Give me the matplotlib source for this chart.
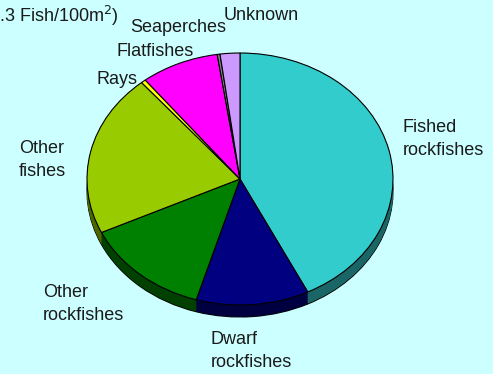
import matplotlib
matplotlib.use("Agg")
import matplotlib.pyplot as plt
import matplotlib.colors as mcolors
import numpy as np

plt.rcParams['font.family'] = ['Liberation Sans', 'DejaVu Sans']

# Catch composition (share of fish counted), clockwise from 12 o'clock
categories = ["Fished\nrockfishes", "Dwarf\nrockfishes", "Other\nrockfishes",
              "Other\nfishes", "Rays", "Flatfishes", "Seaperches", "Unknown"]
shares = [43.0, 12.0, 13.5, 21.0, 0.5, 8.3, 0.3, 2.1]
colors = ["#33CCCC", "#000080", "#008000", "#99CC00", "#FFFF00",
          "#FF00FF", "#808080", "#CC99FF"]
title_text = "(11.3 Fish/100m$^{2}$)"

W, H = 493, 374
fig = plt.figure(figsize=(W / 100, H / 100), dpi=100)
bg = "#CCFFFF"
fig.patch.set_facecolor(bg)
ax = fig.add_axes([0, 0, 1, 1])
ax.set_facecolor(bg)

# Pixel geometry of the tilted pie
cx, cy = 240, 179          # centre in pixels from the top-left
rx, ry = 153, 126          # horizontal / vertical radius in pixels
depth = 12 / ry            # thickness of the rim in y data units

dark = [tuple(np.array(mcolors.to_rgb(c)) * 0.5) for c in colors]

# Rim: a stack of darker pies shifted downward
N = 24
for k in range(N, 0, -1):
    ec = "black" if k == N else "none"
    ax.pie(shares, colors=dark, startangle=90, counterclock=False,
           center=(0, -depth * k / N), radius=1,
           wedgeprops=dict(edgecolor=ec, linewidth=0.8))

# Top face
ax.pie(shares, colors=colors, startangle=90, counterclock=False,
       center=(0, 0), radius=1,
       wedgeprops=dict(edgecolor="black", linewidth=0.8))

ax.set_aspect("auto")
ax.set_xlim(-cx / rx, (W - cx) / rx)
ax.set_ylim(-(H - cy) / ry, cy / ry)
ax.axis("off")


def px(x, y):
    return ((x - cx) / rx, (cy - y) / ry)


tc = "#1a1a1a"
fs = 13
label_pos = {
    "Fished\nrockfishes": (403, 139),
    "Dwarf\nrockfishes": (211, 351),
    "Other\nrockfishes": (43, 304),
    "Other\nfishes": (19, 160),
    "Rays": (96, 79),
    "Flatfishes": (116, 51),
    "Seaperches": (130, 27),
    "Unknown": (224, 15),
}
for name in categories:
    x, y = label_pos[name]
    ax.text(*px(x, y), name, ha="left", va="center", fontsize=fs, color=tc,
            linespacing=1.45)

ax.text(*px(119, 16), title_text, ha="right", va="center", fontsize=13,
        color=tc)

fig.savefig("out.png", dpi=100, facecolor=bg)
